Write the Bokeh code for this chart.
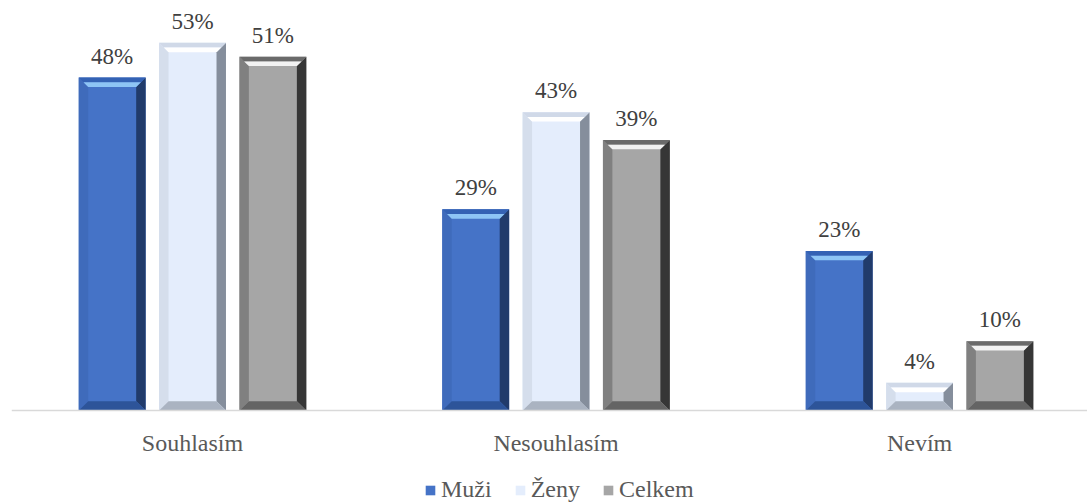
from bokeh.plotting import figure
from bokeh.models import Legend, LegendItem, ColumnDataSource, Range1d, Span
from bokeh.core.properties import value
from bokeh.embed import file_html
from bokeh.resources import INLINE

categories = ["Souhlasím", "Nesouhlasím", "Nevím"]
series = ["Muži", "Ženy", "Celkem"]
muzi = [48, 29, 23]
zeny = [53, 43, 4]
celkem = [51, 39, 10]

values = [muzi, zeny, celkem]
offsets = [-0.221, 0.0, 0.221]
bar_w = 0.184
bx, by = 0.026, 1.35

styles = [
    dict(face="#4573c7", top_outer="#3462b4", top_inner="#8ec5f5", left="#3f6bbb", right="#213b6b", bottom="#2d5499"),
    dict(face="#e4edfc", top_outer="#d0d9e8", top_inner="#ffffff", left="#d5deec", right="#858e9c", bottom="#aab3c1"),
    dict(face="#a6a6a6", top_outer="#6a6a6a", top_inner="#f2f2f2", left="#808080", right="#363636", bottom="#646464"),
]

p = figure(frame_width=1076, frame_height=504, output_backend="svg", toolbar_location=None,
           x_range=Range1d(-0.498, 2.462), y_range=Range1d(-13.54, 59.1),
           x_axis_location=None, y_axis_location=None,
           min_border_left=11, min_border_right=0, min_border_top=0, min_border_bottom=0,
           outline_line_color=None, background_fill_color="white", border_fill_color="white")
p.grid.visible = False

# category axis line
p.add_layout(Span(location=0, dimension="width", line_color="#d9d9d9", line_width=1.5))

legend_items = []
for name, vals, off, st in zip(series, values, offsets, styles):
    xs = [i + off for i in range(len(categories))]
    src = ColumnDataSource(dict(x=xs, top=vals))
    r = p.vbar(x="x", top="top", width=bar_w, source=src, fill_color=st["face"], line_color=None)
    legend_items.append(LegendItem(label=name, renderers=[r]))
    polys = {k: ([], []) for k in ["top_outer", "top_inner", "left", "right", "bottom"]}
    for x, v in zip(xs, vals):
        x0, x1 = x - bar_w / 2, x + bar_w / 2
        polys["top_outer"][0].append([x0, x1, x1 - bx / 2, x0 + bx / 2])
        polys["top_outer"][1].append([v, v, v - by / 2, v - by / 2])
        polys["top_inner"][0].append([x0 + bx / 2, x1 - bx / 2, x1 - bx, x0 + bx])
        polys["top_inner"][1].append([v - by / 2, v - by / 2, v - by, v - by])
        polys["left"][0].append([x0, x0, x0 + bx, x0 + bx])
        polys["left"][1].append([0, v, v - by, by])
        polys["right"][0].append([x1, x1, x1 - bx, x1 - bx])
        polys["right"][1].append([0, v, v - by, by])
        polys["bottom"][0].append([x0, x1, x1 - bx, x0 + bx])
        polys["bottom"][1].append([0, 0, by, by])
    for k in ["left", "right", "bottom", "top_outer", "top_inner"]:
        p.patches(xs=polys[k][0], ys=polys[k][1], fill_color=st[k], line_color=None)
    p.text(x=xs, y=vals, text=[f"{v}%" for v in vals], text_align="center",
           text_baseline="bottom", y_offset=-9, text_font=value("Liberation Serif"),
           text_font_size="23px", text_color="#404040")

# category labels
p.text(x=list(range(len(categories))), y=[0] * len(categories), text=categories,
       text_align="center", text_baseline="top", y_offset=19,
       text_font=value("Liberation Serif"), text_font_size="24px", text_color="#595959")

legend = Legend(items=legend_items, orientation="horizontal", location=(413, 1),
                label_text_font="Liberation Serif", label_text_font_size="24px",
                label_text_color="#595959", glyph_width=12, glyph_height=12,
                label_standoff=5, spacing=22, border_line_color=None, padding=0,
                margin=0, background_fill_alpha=0)
p.add_layout(legend, "center")

open("out.html", "w").write(file_html(p, INLINE))
